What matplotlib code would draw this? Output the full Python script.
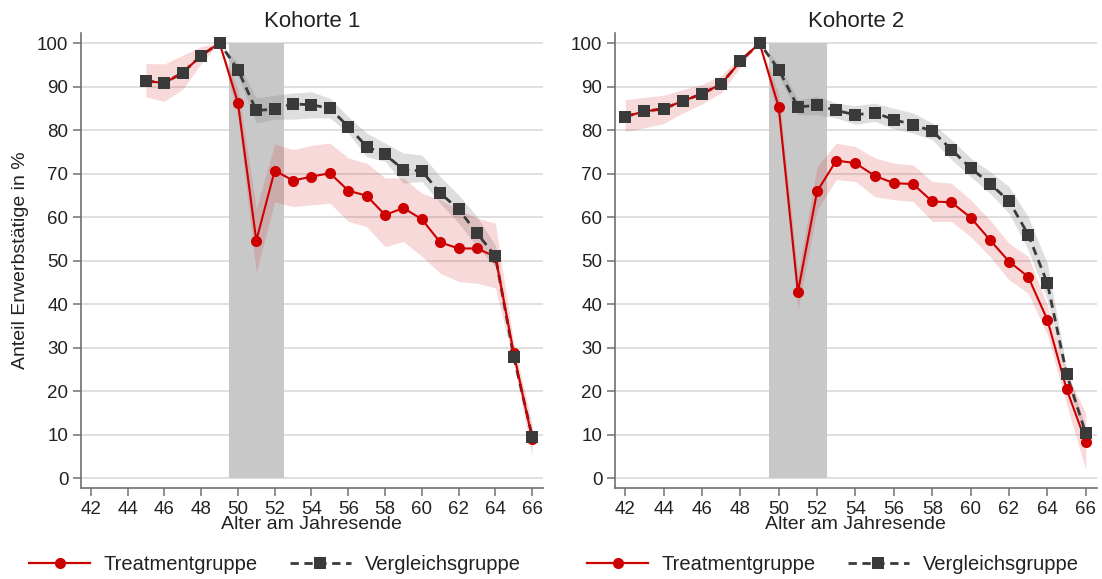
import matplotlib
matplotlib.use("Agg")
import matplotlib.pyplot as plt
from matplotlib.lines import Line2D

plt.rcParams['font.family'] = ['Liberation Sans', 'DejaVu Sans']

# ---------------- data ----------------
ages1 = list(range(45, 67))
treat1 = [91.3, 90.8, 93.2, 97.1, 100, 86.3, 54.6, 70.7, 68.4, 69.3, 70.1, 66.1,
          64.9, 60.5, 62.1, 59.5, 54.2, 52.8, 52.8, 50.9, 28.7, 9.0]
treat1_lo = [87.6, 86.6, 89.4, 95.3, 100, 83.0, 47.3, 63.5, 62.4, 62.8, 63.2, 59.0,
             57.8, 53.2, 54.4, 51.0, 47.1, 45.2, 44.8, 43.7, 26.5, 5.0]
treat1_hi = [95.3, 95.2, 97.2, 99.2, 100, 89.5, 62.0, 76.8, 75.5, 76.5, 77.0, 73.6,
             72.4, 69.0, 69.0, 65.5, 64.0, 61.7, 59.8, 58.6, 31.0, 12.5]
ctrl1 = [91.3, 90.8, 93.2, 97.1, 100, 93.9, 84.5, 84.8, 86.0, 85.8, 85.0, 80.8,
         76.2, 74.4, 70.9, 70.6, 65.5, 61.8, 56.3, 51.0, 27.8, 9.6]
ctrl1_lo = [91.0, 90.5, 92.9, 96.8, 100, 92.5, 81.6, 82.5, 82.5, 82.8, 82.8, 79.3,
            73.9, 72.8, 67.8, 68.2, 63.2, 58.6, 53.2, 48.5, 26.5, 8.5]
ctrl1_hi = [91.6, 91.1, 93.5, 97.4, 100, 95.5, 87.4, 88.0, 88.5, 88.8, 87.3, 83.1,
            79.3, 77.0, 74.7, 74.3, 69.3, 65.1, 60.1, 53.5, 29.0, 11.0]

ages2 = list(range(42, 67))
treat2 = [83.1, 84.3, 84.9, 86.7, 88.3, 90.6, 95.8, 100, 85.3, 42.8, 65.9, 73.0,
          72.4, 69.5, 67.8, 67.6, 63.6, 63.4, 59.9, 54.8, 49.8, 46.3, 36.4, 20.5, 8.4]
treat2_lo = [79.7, 80.5, 81.5, 83.9, 86.0, 88.5, 94.5, 100, 82.0, 38.7, 61.7, 68.6,
             68.2, 64.7, 64.0, 63.6, 59.0, 59.0, 55.5, 51.0, 45.6, 42.5, 33.0, 17.0, 2.0]
treat2_hi = [87.0, 87.5, 88.0, 89.3, 90.5, 92.5, 97.0, 100, 88.5, 47.0, 71.6, 77.0,
             76.2, 73.6, 72.4, 72.0, 68.2, 67.8, 64.0, 59.4, 54.0, 51.0, 39.8, 24.0, 15.0]
ctrl2 = [83.1, 84.3, 84.9, 86.7, 88.3, 90.6, 95.8, 100, 93.9, 85.3, 85.7, 84.5,
         83.5, 84.0, 82.4, 81.2, 79.8, 75.5, 71.3, 67.7, 63.7, 56.0, 44.8, 24.0, 10.3]
ctrl2_lo = [82.8, 84.0, 84.6, 86.4, 88.0, 90.3, 95.5, 100, 92.5, 83.5, 83.5, 82.8,
            81.3, 82.0, 80.3, 79.3, 77.8, 73.2, 69.3, 65.5, 60.9, 52.5, 41.0, 22.5, 9.0]
ctrl2_hi = [83.4, 84.6, 85.2, 87.0, 88.6, 90.9, 96.1, 100, 95.3, 87.0, 87.8, 86.2,
            85.6, 86.2, 85.0, 83.9, 81.6, 77.8, 73.6, 70.5, 67.0, 60.1, 49.4, 25.5, 11.6]

titles = ["Kohorte 1", "Kohorte 2"]
treat_label = "Treatmentgruppe"
ctrl_label = "Vergleichsgruppe"
xlabel = "Alter am Jahresende"
ylabel = "Anteil Erwerbstätige in %"
xticks = list(range(42, 67, 2))
yticks = list(range(0, 101, 10))
span = (49.5, 52.5)

RED = "#cc0000"
DARK = "#3a3a3a"
TXT = "#222222"

W, H = 1102, 579
fig = plt.figure(figsize=(W / 100, H / 100), dpi=100)

def px_axes(x0, x1, y0, y1):
    return fig.add_axes([x0 / W, 1 - y1 / H, (x1 - x0) / W, (y1 - y0) / H])

ax1 = px_axes(81, 542.7, 33, 488.3)
ax2 = px_axes(615, 1096.7, 33, 488.3)

panels = [
    (ax1, ages1, treat1, treat1_lo, treat1_hi, ctrl1, ctrl1_lo, ctrl1_hi),
    (ax2, ages2, treat2, treat2_lo, treat2_hi, ctrl2, ctrl2_lo, ctrl2_hi),
]

for i, (ax, ages, tr, trl, trh, ct, ctl, cth) in enumerate(panels):
    ax.set_xlim(41.47, 66.57)
    ax.set_ylim(-2.3, 102.3)
    ax.fill_between(list(span), 0, 100, color="#c8c8c8", lw=0, zorder=1)
    ax.fill_between(ages, ctl, cth, color="#8a8a8a", alpha=0.28, lw=0, zorder=2)
    ax.fill_between(ages, trl, trh, color="#dd3030", alpha=0.18, lw=0, zorder=2)
    ax.plot(ages, ct, color=DARK, lw=2, ls=(0, (3, 2)), zorder=3)
    ax.plot(ages, tr, color=RED, lw=1.5, marker="o", markersize=8,
            markeredgewidth=0, zorder=4)
    ax.plot(ages, ct, color=DARK, ls="none", marker="s", markersize=8.5,
            markeredgewidth=0, zorder=5)

    ax.set_xticks(xticks)
    ax.set_yticks(yticks)
    ax.yaxis.grid(True, color="#dcdcdc", lw=1.3)
    ax.set_axisbelow(True)
    for s in ["top", "right"]:
        ax.spines[s].set_visible(False)
    for s in ["left", "bottom"]:
        ax.spines[s].set_color("#707070")
        ax.spines[s].set_linewidth(1.2)
    ax.tick_params(axis="both", direction="out", length=6, width=1.1,
                   color="#707070", labelsize=13.5, labelcolor=TXT, pad=3)
    ax.set_xlabel(xlabel, fontsize=14, color=TXT, labelpad=-1)
    ax.set_title(titles[i], fontsize=16, color=TXT, pad=4)

ax1.set_ylabel(ylabel, fontsize=14, color=TXT, labelpad=6)

handles = [
    Line2D([], [], color=RED, lw=1.6, marker="o", markersize=8, markeredgewidth=0),
    Line2D([], [], color=DARK, lw=2, ls=(0, (3, 2)), marker="s", markersize=8.5,
           markeredgewidth=0),
]
for cx in (275, 833):
    fig.legend(handles, [treat_label, ctrl_label], ncol=2, loc="center",
               bbox_to_anchor=(cx / W, 1 - 565 / H), frameon=False,
               fontsize=14.5, handlelength=3.0, handletextpad=0.7,
               columnspacing=1.6, labelcolor=TXT)

fig.savefig("out.png", dpi=100)
